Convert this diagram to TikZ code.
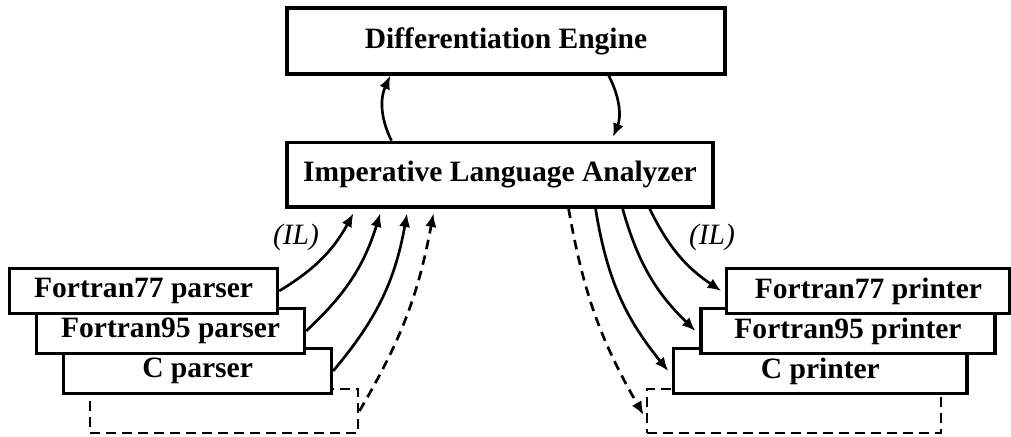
\documentclass[tikz,border=0pt]{standalone}
\usepackage{fontspec}
\setmainfont{Liberation Serif}
\usetikzlibrary{positioning,calc,arrows.meta}
\begin{document}
\begin{tikzpicture}[x=1cm,y=1cm,line width=1.9pt,font=\fontsize{21}{24}\selectfont\bfseries,
box/.style={draw,fill=white,line width=2.2pt,inner sep=0pt,minimum height=1.12cm},
ghost/.style={draw,line width=2pt,dash pattern=on 2.4mm off 1.6mm,minimum height=1.1cm},
arr/.style={-{Latex[length=3.4mm,width=2.8mm]}},dsh/.style={dash pattern=on 2.4mm off 1.6mm},
lab/.style={font=\fontsize{21}{24}\selectfont\itshape}]
\useasboundingbox (0,0) rectangle (25.275,10.925);
\node[box,minimum width=10.95cm,minimum height=1.65cm] (eng) at (12.65,9.9) {Differentiation Engine};
\node[box,minimum width=10.65cm,minimum height=1.62cm] (ila) at (12.5,6.56) {Imperative Language Analyzer};
\draw[arr] ($(ila.north west)+(2.65,0)$) to[bend left=25] ($(eng.south west)+(2.62,0)$);
\draw[arr,shorten >=1mm] ($(eng.south west)+(8.08,0)$) to[bend left=25] ($(ila.north west)+(8.15,0)$);
\node[ghost,minimum width=6.7cm] (p3) at (5.6,0.65) {};
\foreach \i/\t in {2/C parser,1/Fortran95 parser,0/Fortran77 parser}
  \node[box,minimum width=6.7cm] (p\i) at (3.59+0.675*\i,3.65-\i) {\t};
\node[ghost,minimum width=7.35cm] (q3) at (19.85,0.65) {};
\foreach \i/\x/\w/\t in {2/20.51/7.33/C printer,1/21.2/7.35/Fortran95 printer,0/21.71/7.08/Fortran77 printer}
  \node[box,minimum width=\w cm] (q\i) at (\x,3.65-\i) {\t};
\foreach \i in {0,1,2}{
  \draw[arr] (p\i.east) to[bend right=15] ($(ila.south west)+(1.7+0.67*\i,-0.12)$);
  \draw[arr] ($(ila.south east)+(-1.625-0.675*\i,0)$) to[bend right=15] ([xshift=-1mm]q\i.west);}
\draw[arr,dsh] (p3.east) to[bend right=10] ($(ila.south west)+(3.7,-0.12)$);
\draw[arr,dsh] ($(ila.south east)+(-3.65,0)$) to[bend right=10] ([xshift=-0.5mm,yshift=-1mm]q3.west);
\node[lab] (il0) at (7.4,5.0) {(IL)};
\node[lab] (il1) at (17.8,5.0) {(IL)};
\end{tikzpicture}
\end{document}
